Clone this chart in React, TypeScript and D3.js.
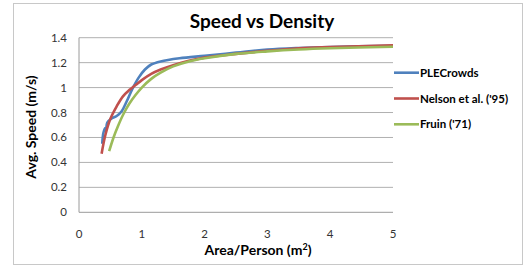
import { useMemo } from 'react';
import * as d3 from 'd3';

document.body.style.margin = '0';

const seriesNames = ['PLECrowds', 'Nelson et al. (\'95)', 'Fruin (\'71)'];
const seriesColors = ['#4f81bd', '#c0504d', '#9bbb59'];

const pleCrowds: [number, number][] = [
  [0.37, 0.55], [0.39, 0.64], [0.42, 0.675], [0.43, 0.66], [0.45, 0.72], [0.52, 0.752], [0.6, 0.772],
  [0.68, 0.81], [0.76, 0.89], [0.85, 0.99], [0.95, 1.08], [1.05, 1.145], [1.15, 1.185],
  [1.3, 1.21], [1.6, 1.235], [2, 1.255], [2.5, 1.28], [3, 1.305], [3.5, 1.318], [4, 1.326], [5, 1.335],
];
const nelson: [number, number][] = [
  [0.36, 0.47], [0.42, 0.62], [0.5, 0.75], [0.6, 0.85], [0.7, 0.93], [0.8, 0.98], [0.9, 1.02],
  [1.0, 1.06], [1.15, 1.11], [1.3, 1.145], [1.5, 1.18], [1.75, 1.215], [2, 1.24], [2.5, 1.27],
  [3, 1.295], [3.5, 1.315], [4, 1.325], [5, 1.34],
];
const fruin: [number, number][] = [
  [0.48, 0.49], [0.55, 0.6], [0.62, 0.69], [0.7, 0.78], [0.8, 0.87], [0.9, 0.94], [1.0, 1.0],
  [1.15, 1.07], [1.3, 1.12], [1.5, 1.17], [1.75, 1.21], [2, 1.235], [2.5, 1.27], [3, 1.29],
  [3.5, 1.305], [4, 1.315], [5, 1.328],
];
const seriesData = [pleCrowds, nelson, fruin];

const xTicks = [0, 1, 2, 3, 4, 5];
const yTicks = [0, 0.2, 0.4, 0.6, 0.8, 1, 1.2, 1.4];

export default function App() {
  const width = 529;
  const height = 267;
  const left = 79;
  const right = 393;
  const top = 37.7;
  const bottom = 212.3;

  const x = useMemo(() => d3.scaleLinear().domain([0, 5]).range([left, right]), []);
  const y = useMemo(() => d3.scaleLinear().domain([0, 1.4]).range([bottom, top]), []);

  const line = d3
    .line<[number, number]>()
    .x((d) => x(d[0]))
    .y((d) => y(d[1]))
    .curve(d3.curveCatmullRom.alpha(0.5));

  const font = 'Lato, "Open Sans", sans-serif';

  return (
    <svg width={width} height={height} style={{ display: 'block', fontFamily: font }}>
      <rect x={0} y={0} width={width} height={height} fill="#ffffff" />
      <rect x={13.5} y={3.5} width={509} height={261} fill="none" stroke="#c8c8c8" strokeWidth={1} />
      <text x={262} y={28} textAnchor="middle" fontSize={19} fontWeight="bold" fill="#000">
        Speed vs Density
      </text>

      {yTicks.map((t) => (
        <g key={t}>
          {t > 0 && (
            <line x1={left} x2={right} y1={y(t)} y2={y(t)} stroke="#b0b0b0" strokeWidth={1} />
          )}
          <text x={67} y={y(t) + 4} textAnchor="end" fontSize={11.5} fill="#333">
            {t === 0 || t === 1 ? String(t) : t.toFixed(1)}
          </text>
        </g>
      ))}
      <line x1={left} x2={left} y1={top} y2={bottom} stroke="#9a9a9a" strokeWidth={1} />
      <line x1={left} x2={right} y1={bottom} y2={bottom} stroke="#9a9a9a" strokeWidth={1} />

      {xTicks.map((t) => (
        <text key={t} x={x(t)} y={237.5} textAnchor="middle" fontSize={11.5} fill="#333">
          {t}
        </text>
      ))}

      <text x={258} y={255} textAnchor="middle" fontSize={14} fontWeight="bold" fill="#000">
        Area/Person (m<tspan fontSize={9} dy={-5}>2</tspan>
        <tspan dy={5}>)</tspan>
      </text>
      <text
        transform="translate(36,127) rotate(-90)"
        textAnchor="middle"
        fontSize={14}
        fontWeight="bold"
        fill="#000"
      >
        Avg. Speed (m/s)
      </text>

      {seriesData.map((data, i) => (
        <path
          key={seriesNames[i]}
          d={line(data) ?? ''}
          fill="none"
          stroke={seriesColors[i]}
          strokeWidth={2.6}
          strokeLinecap="butt"
          strokeLinejoin="round"
        />
      ))}

      {seriesNames.map((name, i) => {
        const ly = 72.7 + i * 25.8;
        return (
          <g key={name}>
            <line x1={394} x2={419} y1={ly} y2={ly} stroke={seriesColors[i]} strokeWidth={2.6} />
            <text x={420} y={ly + 4} fontSize={11.5} fontWeight="bold" fill="#000">
              {name}
            </text>
          </g>
        );
      })}
    </svg>
  );
}
